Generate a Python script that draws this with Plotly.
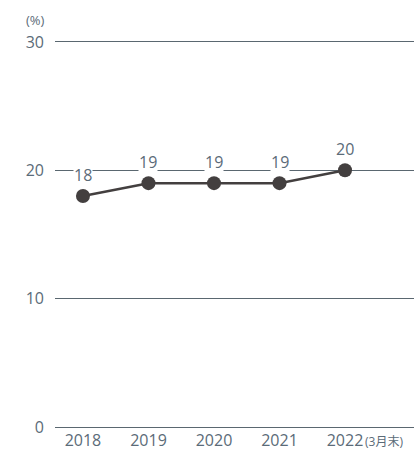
import plotly.graph_objects as go

years = [2018, 2019, 2020, 2021, 2022]
values = [18, 19, 19, 19, 20]
y_ticks = [0, 10, 20, 30]
x_tick_labels = ["2018", "2019", "2020", "2021", "2022"]

txt = "#5b6b78"
grid = "#5a6770"
font_family = "Open Sans, Noto Sans CJK JP, sans-serif"

fig = go.Figure()
fig.add_trace(go.Scatter(
    x=years, y=values, mode="lines+markers",
    line=dict(color="#433f3f", width=2.5),
    marker=dict(color="#433f3f", size=14),
    hoverinfo="skip", showlegend=False,
))

annotations = []
for x, v in zip(years, values):
    annotations.append(dict(
        x=x, y=v, xref="x", yref="y", text=str(v), showarrow=False,
        yshift=21, bgcolor="white", borderpad=0,
        font=dict(size=16, color=txt, family=font_family),
    ))
annotations.append(dict(
    x=years[-1], y=0, xref="x", yref="y", text="(3月末)", showarrow=False,
    xanchor="left", yanchor="middle", xshift=19, yshift=-14, borderpad=0,
    font=dict(size=12, color=txt, family=font_family),
))
annotations.append(dict(
    x=0, y=y_ticks[-1], xref="paper", yref="y", text="(%)", showarrow=False,
    xanchor="right", yanchor="bottom", xshift=-8, yshift=11,
    font=dict(size=13, color=txt, family=font_family),
))

fig.update_layout(
    width=414, height=450,
    margin=dict(l=55, r=0, t=40, b=21),
    plot_bgcolor="white", paper_bgcolor="white",
    font=dict(family=font_family, color=txt),
    annotations=annotations,
    xaxis=dict(
        range=[2017.573, 2023.053], tickmode="array", tickvals=years,
        ticktext=x_tick_labels, showgrid=False, zeroline=False,
        showline=False, ticks="", tickfont=dict(size=16, color=txt),
        fixedrange=True,
    ),
    yaxis=dict(
        range=[-0.15, 30.15], tickmode="array", tickvals=y_ticks,
        showgrid=True, gridcolor=grid, gridwidth=1, zeroline=False,
        showline=False, ticks="", ticklabelstandoff=10,
        tickfont=dict(size=16, color=txt), fixedrange=True,
    ),
)

fig.write_html("out.html")
